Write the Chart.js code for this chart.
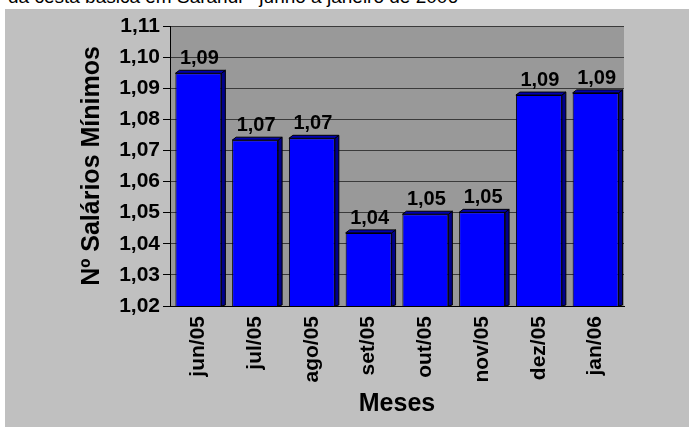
<!DOCTYPE html>
<html>
<head>
<meta charset="utf-8">
<script src="https://cdn.jsdelivr.net/npm/chart.js@4/dist/chart.umd.min.js"></script>
<style>
  html, body { margin: 0; padding: 0; background: #ffffff; overflow: hidden; }
  body { width: 689px; height: 428px; position: relative; }
  #topTitle {
    position: absolute; left: 8px; top: -14px;
    font: 19px "Liberation Sans", Arial, sans-serif; color: #000; white-space: nowrap;
  }
  #box { position: absolute; left: 5px; top: 9px; width: 684px; height: 418px; background: #c0c0c0; }
</style>
</head>
<body>
<div id="topTitle">da cesta básica em Sarandi - junho a janeiro de 2006</div>
<div id="box"><canvas id="chart" width="684" height="418"></canvas></div>
<script>
// Meses e valores (nº de salários mínimos)
const months = ['jun/05', 'jul/05', 'ago/05', 'set/05', 'out/05', 'nov/05', 'dez/05', 'jan/06'];
const salarios = [1.0948, 1.0733, 1.0739, 1.0435, 1.0495, 1.0501, 1.0878, 1.0885];
const yTicks = [1.02, 1.03, 1.04, 1.05, 1.06, 1.07, 1.08, 1.09, 1.10, 1.11];

const fmt = v => v.toFixed(2).replace('.', ',');
const FONT = '"Liberation Sans", Arial, sans-serif';

// Fundo cinza da area de plotagem
const plotBg = {
  id: 'plotBg',
  beforeDraw(chart) {
    const { ctx, chartArea: a } = chart;
    ctx.save();
    ctx.fillStyle = '#999999';
    ctx.fillRect(a.left, a.top, a.right - a.left, a.bottom - a.top);
    ctx.restore();
  }
};

// Efeito 3D nas barras + rotulos com valores
const bar3d = {
  id: 'bar3d',
  afterDatasetsDraw(chart) {
    const { ctx, chartArea } = chart;
    const meta = chart.getDatasetMeta(0);
    const d = 4;
    const bottom = chartArea.bottom;
    ctx.save();
    meta.data.forEach((bar, i) => {
      const p = bar.getProps(['x', 'y', 'width'], true);
      const L = p.x - p.width / 2, R = p.x + p.width / 2;
      ctx.lineWidth = 1;
      ctx.strokeStyle = '#000';
      // lado direito
      ctx.fillStyle = '#00008b';
      ctx.beginPath();
      ctx.moveTo(R, bottom);
      ctx.lineTo(R, p.y);
      ctx.lineTo(R + d, p.y - d + 1);
      ctx.lineTo(R + d, bottom - 1);
      ctx.closePath();
      ctx.fill(); ctx.stroke();
      // topo
      ctx.fillStyle = '#0000b0';
      ctx.beginPath();
      ctx.moveTo(L, p.y);
      ctx.lineTo(L + d, p.y - d + 1);
      ctx.lineTo(R + d, p.y - d + 1);
      ctx.lineTo(R, p.y);
      ctx.closePath();
      ctx.fill(); ctx.stroke();
      // valor
      ctx.fillStyle = '#000';
      ctx.font = 'bold 20px ' + FONT;
      ctx.textAlign = 'center';
      ctx.textBaseline = 'alphabetic';
      ctx.fillText(fmt(salarios[i]), p.x + 1, p.y - 9);
    });
    ctx.restore();
  }
};

new Chart(document.getElementById('chart'), {
  type: 'bar',
  data: {
    labels: months,
    datasets: [{
      data: salarios,
      backgroundColor: '#0000ff',
      borderColor: '#000000',
      borderWidth: 1,
      borderSkipped: false,
      barPercentage: 0.81,
      categoryPercentage: 1.0
    }]
  },
  options: {
    responsive: false,
    animation: false,
    layout: { padding: { left: 0, right: 65, top: 17, bottom: 0 } },
    plugins: { legend: { display: false }, tooltip: { enabled: false } },
    scales: {
      x: {
        grid: { display: false, drawTicks: false },
        border: { display: true, color: '#000' },
        ticks: {
          color: '#000', padding: 10, minRotation: 90, maxRotation: 90,
          font: { family: FONT, size: 21, weight: 'bold' }
        },
        title: {
          display: true, text: 'Meses', color: '#000',
          font: { family: FONT, size: 25, weight: 'bold' },
          padding: { top: 0, bottom: 8 }
        },
        afterFit(s) { s.height = 121; }
      },
      y: {
        min: 1.02, max: 1.11,
        afterBuildTicks(s) { s.ticks = yTicks.map(v => ({ value: v })); },
        grid: { color: '#3a3a3a', tickColor: '#000', tickLength: 7, lineWidth: 1 },
        border: { display: true, color: '#000' },
        ticks: {
          color: '#000', padding: 3,
          font: { family: FONT, size: 21, weight: 'bold' },
          callback: v => fmt(v)
        },
        title: {
          display: true, text: 'Nº Salários Mínimos', color: '#000',
          font: { family: FONT, size: 25, weight: 'bold' },
          padding: { top: 72, bottom: 0 }
        },
        afterFit(s) { s.width = 165; }
      }
    }
  },
  plugins: [plotBg, bar3d]
});
</script>
</body>
</html>
